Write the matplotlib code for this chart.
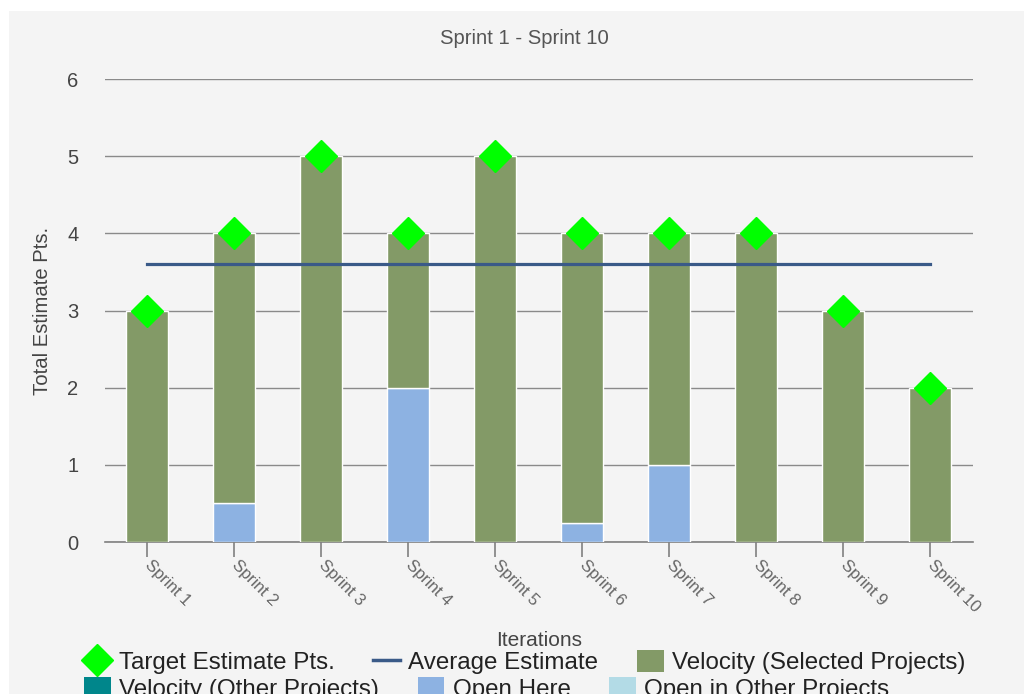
import matplotlib
matplotlib.use('Agg')
import matplotlib.pyplot as plt
from matplotlib.lines import Line2D
from matplotlib.patches import Patch, Rectangle

plt.rcParams['font.family'] = ['Liberation Sans', 'DejaVu Sans']

# data
sprints = ['Sprint 1', 'Sprint 2', 'Sprint 3', 'Sprint 4', 'Sprint 5',
           'Sprint 6', 'Sprint 7', 'Sprint 8', 'Sprint 9', 'Sprint 10']
velocity = [3, 3.5, 5, 2, 5, 3.75, 3, 4, 3, 2]
open_here = [0, 0.5, 0, 2, 0, 0.25, 1, 0, 0, 0]
target = [3, 4, 5, 4, 5, 4, 4, 4, 3, 2]
average = 3.6

BG = '#f4f4f4'
GREEN = '#839a67'
OPEN = '#8db2e2'
TEAL = '#00868b'
LIGHT = '#b3dbe6'
AVG = '#3a5a88'

fig = plt.figure(figsize=(10.24, 6.94), dpi=100, facecolor='white')
fig.patches.append(Rectangle((9 / 1024, 0), 1, 1 - 11 / 694, transform=fig.transFigure,
                             facecolor=BG, edgecolor='none', zorder=-10))

ax = fig.add_axes([105 / 1024, 1 - 542 / 694, 868 / 1024, 463 / 694])
ax.set_facecolor(BG)

x = list(range(len(sprints)))
ax.bar(x, open_here, width=0.48, color=OPEN, edgecolor='white', linewidth=1, zorder=3)
ax.bar(x, velocity, width=0.48, bottom=open_here, color=GREEN, edgecolor='white',
       linewidth=1, zorder=3)
ax.plot([x[0], x[-1]], [average, average], color=AVG, linewidth=2.3, zorder=4)
ax.plot(x, target, linestyle='none', marker='D', markersize=16, color='#00ff00', zorder=5)

ax.set_xlim(-0.485, 9.49)
ax.set_ylim(0, 6)
ax.set_yticks(range(7))
ax.yaxis.grid(True, color='#8a8a8a', linewidth=1.0, zorder=1)
ax.set_axisbelow(True)
for s in ['top', 'right', 'left']:
    ax.spines[s].set_visible(False)
ax.spines['bottom'].set_color('#808080')
ax.spines['bottom'].set_linewidth(1.2)
ax.spines['bottom'].set_zorder(2)

ax.tick_params(axis='y', length=0, pad=19, labelsize=14.5, labelcolor='#444444')
ax.tick_params(axis='x', length=11, width=1.2, color='#808080', pad=4,
               labelsize=12, labelcolor='#666666')
ax.set_xticks(x)
ax.set_xticklabels(sprints, rotation=-45, ha='left', va='center', rotation_mode='anchor')

ax.set_ylabel('Total Estimate Pts.', fontsize=14.6, color='#444444', labelpad=11)
fig.text(524 / 1024, 1 - 38 / 694, 'Sprint 1 - Sprint 10', fontsize=14.6, color='#555555',
         ha='center', va='center')
fig.text(539 / 1024, 1 - 640 / 694, 'Iterations', fontsize=15, color='#444444',
         ha='center', va='center')

row1 = [Line2D([], [], linestyle='none', marker='D', markersize=16, color='#00ff00'),
        Line2D([], [], color=AVG, linewidth=2.5),
        Patch(facecolor=GREEN)]
row2 = [Patch(facecolor=TEAL), Patch(facecolor=OPEN), Patch(facecolor=LIGHT)]
labels1 = ['Target Estimate Pts.', 'Average Estimate', 'Velocity (Selected Projects)']
labels2 = ['Velocity (Other Projects)', 'Open Here', 'Open in Other Projects']

leg_kw = dict(loc='center left', ncol=3, frameon=False, fontsize=17.4, borderpad=0,
              borderaxespad=0, handlelength=1.1, handleheight=1.0, handletextpad=0.35,
              columnspacing=1.6, labelcolor='#222222')
leg1 = fig.legend(row1, labels1, bbox_to_anchor=(84 / 1024, 1 - 662 / 694), **leg_kw)
leg2 = fig.legend(row2, labels2, bbox_to_anchor=(84 / 1024, 1 - 689 / 694), **leg_kw)

fig.savefig('out.png', dpi=100, facecolor='white')
